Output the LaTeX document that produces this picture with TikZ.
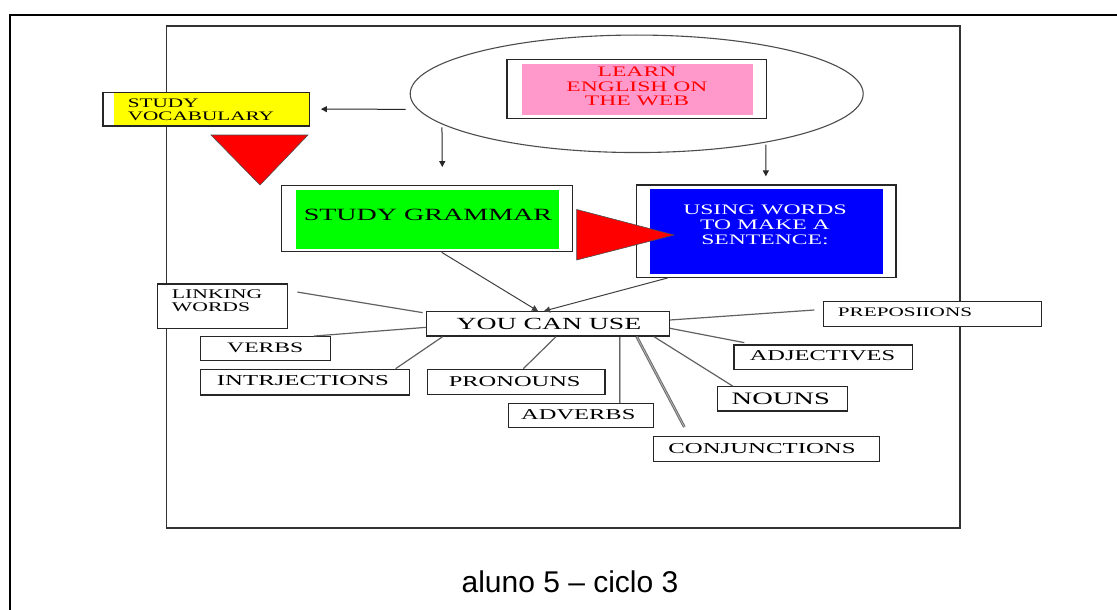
\documentclass[tikz,border=0pt]{standalone}
\usepackage{fontspec}
\setmainfont{Liberation Serif}
\newfontfamily\wf[FakeStretch=1.63]{Liberation Serif}
\newfontfamily\capf{Liberation Sans}
\usetikzlibrary{shapes.geometric,arrows.meta}
\definecolor{pinkf}{HTML}{FF99CC}
\definecolor{greenf}{HTML}{00FF00}
\definecolor{bluef}{HTML}{0000FF}
\definecolor{yellowf}{HTML}{FFFF00}
\definecolor{redf}{HTML}{FF0000}
\newcommand\wfs[2]{\wf\fontsize{#1}{#2}\selectfont}
\begin{document}
\begin{tikzpicture}[x=1pt,y=-1pt,
  boxn/.style={draw=black!85,line width=1.3pt,fill=white,inner sep=0pt,rectangle},
  lbl/.style={inner sep=0pt,align=center},
  conn/.style={draw=black!62,line width=1.2pt},
  thk/.style={draw=black!60,line width=0.9pt,double=black!30,double distance=0.9pt},
  arr/.style={draw=black!85,line width=1pt,-{Triangle[length=6pt,width=6pt]}},
  tri/.style={fill=redf,draw=black!70,line width=0.6pt}
]
\useasboundingbox (0,0) rectangle (1117,610);
\fill[white] (0,0) rectangle (1117,610);
% outer frame
\draw[line width=2.4pt,line cap=rect] (10,610) -- (10,15) -- (1117,15);
% inner frame
\draw[draw=black!80,line width=1.4pt] (166.7,26) rectangle (960,528);

% ellipse
\node[ellipse,draw=black!70,line width=1.1pt,minimum width=453pt,minimum height=117.5pt,inner sep=0pt] (web) at (636.7,93.8) {};

% learn english
\node[boxn,minimum width=259.5pt,minimum height=59.2pt] (learn) at (636.75,89.1) {};
\fill[pinkf] (521.7,64) rectangle (753,115);
\node[lbl,text=redf,font=\wfs{14.5}{14.7}] (learnt) at (637,86.4) {LEARN\\ENGLISH ON\\THE WEB};

% study vocabulary
\node[boxn,minimum width=206.3pt,minimum height=33.7pt] (vocab) at (206.15,109.15) {};
\fill[yellowf] (114,92.95) rectangle (308.65,125.35);
\node[lbl,align=left,anchor=west,font=\wfs{13}{13.5}] (vocabt) at (127.7,109.6) {STUDY\\VOCABULARY};

% green box
\node[boxn,minimum width=291pt,minimum height=66pt] (green) at (427.2,218.7) {};
\fill[greenf] (295.7,190) rectangle (559.3,249);
\node[lbl,font=\wfs{17.2}{18}] (greent) at (428,215) {STUDY GRAMMAR};

% blue box
\node[boxn,minimum width=259.3pt,minimum height=92.3pt] (blue) at (766.35,231.15) {};
\fill[bluef] (650,189.3) rectangle (882.7,274.3);
\node[lbl,text=white,font=\wfs{14.5}{15}] (bluet) at (765,225) {USING WORDS\\TO MAKE A\\SENTENCE:};

% red triangles
\draw[tri] (211,135) -- (308,135) -- (260,185) -- cycle;
\draw[tri] (576.7,209.5) -- (576.7,260) -- (674,235) -- cycle;

% arrows from the ellipse
\draw[arr] ([xshift=-4pt,yshift=-15.5pt]web.west) -- ([xshift=11pt]vocab.east);
\draw[arr] ([xshift=32.3pt,yshift=-33.5pt]web.west) -- ([xshift=15.1pt,yshift=18pt]green.north);
\draw[arr] ([xshift=129.1pt,yshift=8.5pt]web.south) -- ([xshift=-0.5pt,yshift=8pt]blue.north);

% you can use
\node[boxn,minimum width=242.6pt,minimum height=24.3pt] (ycu) at (548,323.85) {};
\node[lbl,font=\wfs{17}{18}] (ycut) at (549,323.8) {YOU CAN USE};
\draw[arr,draw=black!75] ([xshift=14.5pt]green.south) -- ([xshift=-10pt]ycu.north);
\draw[arr,draw=black!75] ([xshift=31.6pt]blue.south west) -- ([xshift=-4pt]ycu.north);

% small boxes
\node[boxn,minimum width=130pt,minimum height=44.3pt] (link) at (222.3,306.15) {};
\node[lbl,align=left,anchor=west,font=\wfs{13.3}{13.4}] (linkt) at (171.7,300.5) {LINKING\\WORDS};
\node[boxn,minimum width=130pt,minimum height=24pt] (verbs) at (265.7,348.7) {};
\node[lbl,font=\wfs{14.5}{15}] (verbst) at (265.3,348) {VERBS};
\node[boxn,minimum width=208.6pt,minimum height=25.7pt] (intrj) at (305,382.15) {};
\node[lbl,font=\wfs{15.2}{16}] (intrjt) at (303,380.3) {INTRJECTIONS};
\node[boxn,minimum width=177.7pt,minimum height=25pt] (pron) at (516.15,381.8) {};
\node[lbl,font=\wfs{15}{16}] (pront) at (514.7,381.3) {PRONOUNS};
\node[boxn,minimum width=145pt,minimum height=24.4pt] (adv) at (580.8,415.5) {};
\node[lbl,font=\wfs{15}{16}] (advt) at (578.3,414.7) {ADVERBS};
\node[boxn,minimum width=226pt,minimum height=25pt] (conj) at (766.3,449.2) {};
\node[lbl,font=\wfs{15.2}{16}] (conjt) at (762,448.3) {CONJUNCTIONS};
\node[boxn,minimum width=130pt,minimum height=24.3pt] (nouns) at (782.3,398.85) {};
\node[lbl,font=\wfs{17.5}{18}] (nounst) at (780.8,399) {NOUNS};
\node[boxn,minimum width=178.3pt,minimum height=24.3pt] (adj) at (823.15,357.15) {};
\node[lbl,font=\wfs{15}{16}] (adjt) at (822.5,355.5) {ADJECTIVES};
\node[boxn,minimum width=218.4pt,minimum height=25pt] (prep) at (932.5,314.2) {};
\node[lbl,anchor=west,font=\wfs{13}{14}] (prept) at (837.7,312.5) {PREPOSIIONS};

% connectors
\draw[conn] ([xshift=9.4pt,yshift=-8.7pt]link.north east) -- ([xshift=-3.4pt,yshift=-1.6pt]ycu.north west);
\draw[conn] ([xshift=-17.4pt]verbs.north east) -- ([yshift=-3.5pt]ycu.west);
\draw[conn] ([xshift=-14.3pt]intrj.north east) -- ([xshift=16.6pt]ycu.south west);
\draw[conn] ([xshift=7.2pt]pron.north) -- ([xshift=8pt]ycu.south);
\draw[thk] ([xshift=39.2pt]adv.north) -- ([xshift=72pt]ycu.south);
\draw[thk] ([xshift=88.7pt]ycu.south) -- ([xshift=31.7pt,yshift=9pt]conj.north west);
\draw[conn] ([xshift=-16pt]ycu.south east) -- ([xshift=16pt]nouns.north west);
\draw[conn] ([yshift=-4.45pt]ycu.east) -- ([xshift=11pt,yshift=1.7pt]adj.north west);
\draw[conn] ([yshift=3.85pt]ycu.east) -- ([xshift=-8.3pt,yshift=4.2pt]prep.west);

% caption
\node[inner sep=0pt,anchor=base,font=\capf\fontsize{30}{34}\selectfont] (cap) at (570,592.7) {aluno 5 – ciclo 3};
\end{tikzpicture}
\end{document}
